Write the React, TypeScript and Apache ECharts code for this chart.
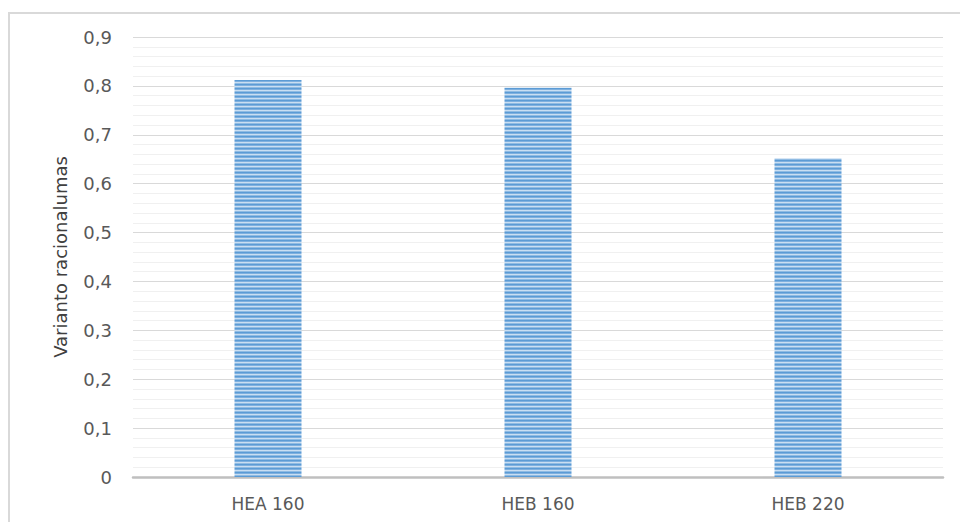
import React, { useEffect, useRef } from "react";
import * as echarts from "echarts";

const categories = ["HEA 160", "HEB 160", "HEB 220"];
const values = [0.812, 0.796, 0.652];
const yTicks = ["0", "0,1", "0,2", "0,3", "0,4", "0,5", "0,6", "0,7", "0,8", "0,9"];
const yAxisTitle = "Varianto racionalumas";

function makeStripePattern(): HTMLCanvasElement {
  const c = document.createElement("canvas");
  c.width = 4;
  c.height = 4;
  const ctx = c.getContext("2d")!;
  const rows = ["#5b9bd5", "#7eb0df", "#c9def2", "#8fbbe3"];
  rows.forEach((col, i) => {
    ctx.fillStyle = col;
    ctx.fillRect(0, i, 4, 1);
  });
  return c;
}

export default function App() {
  const ref = useRef<HTMLDivElement>(null);

  useEffect(() => {
    if (!ref.current) return;
    const chart = echarts.init(ref.current, null, { renderer: "svg" });
    const font = "'DejaVu Sans', sans-serif";
    chart.setOption({
      animation: false,
      backgroundColor: "#ffffff",
      grid: { left: 133, right: 17, top: 37, bottom: 45 },
      graphic: [
        {
          type: "rect",
          shape: { x: 9, y: 13, width: 1000, height: 600 },
          style: { fill: "none", stroke: "#d9d9d9", lineWidth: 2 },
          silent: true,
        },
      ],
      xAxis: {
        type: "category",
        data: categories,
        axisLine: { show: true, lineStyle: { color: "#bfbfbf", width: 2.5 } },
        axisTick: { show: false },
        axisLabel: { color: "#595959", fontSize: 17, fontFamily: font, margin: 18 },
      },
      yAxis: {
        type: "value",
        min: 0,
        max: 0.9,
        interval: 0.1,
        name: yAxisTitle,
        nameLocation: "middle",
        nameGap: 64,
        nameRotate: 90,
        nameTextStyle: { color: "#404040", fontSize: 18, fontFamily: font },
        axisLine: { show: false },
        axisTick: { show: false },
        axisLabel: {
          color: "#595959",
          fontSize: 18,
          fontFamily: font,
          margin: 21,
          formatter: (v: number) => yTicks[Math.round(v * 10)] ?? String(v),
        },
        splitLine: { show: true, lineStyle: { color: "#d9d9d9", width: 1 } },
        minorTick: { show: false, splitNumber: 5 },
        minorSplitLine: { show: true, lineStyle: { color: "#f0f0f0", width: 1 } },
      },
      series: [
        {
          type: "bar",
          data: values,
          barWidth: 67,
          itemStyle: {
            color: { image: makeStripePattern(), repeat: "repeat" },
          },
        },
      ],
    });
    return () => chart.dispose();
  }, []);

  return (
    <div
      ref={ref}
      style={{ position: "fixed", left: 0, top: 0, width: 960, height: 522 }}
    />
  );
}
